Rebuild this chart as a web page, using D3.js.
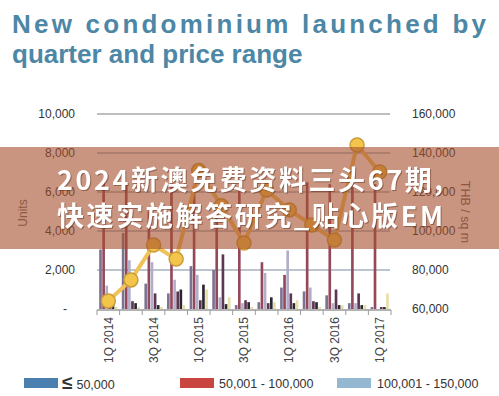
<!DOCTYPE html>
<html>
<head>
<meta charset="utf-8">
<script src="https://cdn.jsdelivr.net/npm/d3@7"></script>
<style>
  body { margin: 0; background: #fff; }
  svg { display: block; font-family: Arial, "Liberation Sans", Helvetica, sans-serif; }
</style>
</head>
<body>
<svg id="chart" width="499" height="396"></svg>
<script>
const quarters = ["1Q 2014", "2Q 2014", "3Q 2014", "4Q 2014", "1Q 2015", "2Q 2015", "3Q 2015",
    "4Q 2015", "1Q 2016", "2Q 2016", "3Q 2016", "4Q 2016", "1Q 2017"];
const tickQuarters = ["1Q 2014", "3Q 2014", "1Q 2015", "3Q 2015", "1Q 2016", "3Q 2016", "1Q 2017"];

const seriesNames = ["≤ 50,000", "50,001 - 100,000", "100,001 - 150,000",
    "150,001 - 200,000", "200,001 - 250,000", "> 250,000"];

// units launched per price band
const under50k      = [3050, 3900, 1300,  800, 2200, 2000,  200,  350, 1100,  900,  700,  300,  100];
const from50to100k  = [6600, 6500, 5000, 6400, 6300, 5000, 6200, 2400, 1750, 6500, 6400, 6700, 6400];
const from100to150k = [1200, 2500, 2400, 1500, 1750,  600,  300, 1850, 3000, 1100,  300,  300,    0];
const from150to200k = [ 500,  400,  800,  900,  450, 2800,  450,  300,  800,  400, 1000,  800,  100];
const from200to250k = [ 300,  300,  200, 1000, 1250,  250,  350,  600,  300,  350,  200,  200,  100];
const above250k     = [ 100,  100,  100,  200, 1000,  600,  100,  350,  450,  100,  200,  200,  800];

// average price THB / sq m
const avgPrice = [64100, 74900, 92800, 85600, 131000, 113000, 93800, 121000, 110800, 103100, 95400, 144100, 130300];

const unitTicks = [0, 2000, 4000, 6000, 8000, 10000];
const priceTicks = [60000, 80000, 100000, 120000, 140000, 160000];

const seriesValues = [under50k, from50to100k, from100to150k, from150to200k, from200to250k, above250k];
const barColors = ["#7c7393", "#94495b", "#b3adca", "#5d3651", "#2b2730", "#e7dfa9"];
const legendColors = ["#4a7fb0", "#c8463f", "#95b8d2"];

const svg = d3.select("#chart");
const margin = { top: 114, right: 109, bottom: 87, left: 97 };
const width = 499, height = 396;
const plotRight = 391;
const zeroY = 309;

const x0 = d3.scaleBand()
    .domain(quarters)
    .range([margin.left, plotRight])
    .padding(0);

const x1 = d3.scaleBand()
    .domain(d3.range(seriesNames.length))
    .range([0, x0.bandwidth()])
    .paddingInner(0.15)
    .paddingOuter(0.7);

const y = d3.scaleLinear().domain([0, 10000]).range([zeroY, margin.top]);
const y2 = d3.scaleLinear().domain([60000, 160000]).range([zeroY, margin.top]);

// title
const title = svg.append("g").attr("fill", "#4d87a6").attr("font-weight", "bold").attr("font-size", 26);
title.append("text").attr("x", 12).attr("y", 33)
    .attr("textLength", 474).attr("lengthAdjust", "spacing")
    .text("New condominium launched by");
title.append("text").attr("x", 12).attr("y", 63).text("quarter and price range");

// gridlines
svg.append("g")
    .selectAll("line")
    .data(unitTicks.filter(d => d > 0))
    .join("line")
    .attr("x1", margin.left)
    .attr("x2", plotRight - 1)
    .attr("y1", d => y(d))
    .attr("y2", d => y(d))
    .attr("stroke", d => d === 10000 ? "#a9a9a9" : "#a3b2c0")
    .attr("stroke-width", 1.5);

// bars
const rows = quarters.map((q, i) => ({ q, values: seriesValues.map(s => s[i]) }));

svg.append("g")
    .attr("class", "plot-area")
    .selectAll("g")
    .data(rows)
    .join("g")
    .attr("transform", d => `translate(${x0(d.q)},0)`)
    .selectAll("rect")
    .data(d => d.values.map((v, k) => ({ k, v })))
    .join("rect")
    .attr("x", d => x1(d.k))
    .attr("y", d => y(d.v))
    .attr("width", x1.bandwidth())
    .attr("height", d => y(0) - y(d.v))
    .attr("fill", d => barColors[d.k]);

// x axis line + band ticks
const xAxisG = svg.append("g").attr("stroke", "#9a9a9a");
xAxisG.append("line")
    .attr("x1", margin.left).attr("x2", plotRight)
    .attr("y1", zeroY + 1).attr("y2", zeroY + 1)
    .attr("stroke-width", 1.5);
xAxisG.selectAll(".btick")
    .data(quarters.concat(["end"]))
    .join("line")
    .attr("class", "btick")
    .attr("x1", (d, i) => margin.left + i * x0.bandwidth())
    .attr("x2", (d, i) => margin.left + i * x0.bandwidth())
    .attr("y1", zeroY + 1)
    .attr("y2", zeroY + 6);

svg.append("g")
    .attr("transform", `translate(0,${zeroY + 8})`)
    .call(d3.axisBottom(x0).tickValues(tickQuarters).tickSize(0).tickPadding(0))
    .call(g => g.select(".domain").remove())
    .call(g => g.selectAll("text")
        .attr("transform", "rotate(-90)")
        .attr("text-anchor", "end")
        .attr("x", 0)
        .attr("y", 0)
        .attr("dy", "0.35em")
        .attr("font-size", 12)
        .attr("fill", "#444"));

// left axis
svg.append("g")
    .attr("transform", `translate(${margin.left},0)`)
    .call(d3.axisLeft(y).tickValues(unitTicks).tickSize(0).tickPadding(22)
        .tickFormat(d => d === 0 ? "-" : d3.format(",")(d)))
    .call(g => g.select(".domain").remove())
    .call(g => g.selectAll("text").attr("font-size", 12).attr("fill", "#333"))
    .call(g => g.selectAll(".tick").filter(d => d === 0).select("text").attr("dx", -8));

// right axis
svg.append("g")
    .attr("transform", `translate(${plotRight - 1},0)`)
    .call(d3.axisRight(y2).tickValues(priceTicks).tickSize(0).tickPadding(22).tickFormat(d3.format(",")))
    .call(g => g.select(".domain").remove())
    .call(g => g.selectAll("text").attr("font-size", 12).attr("fill", "#333"));

// axis titles
svg.append("text")
    .attr("transform", "translate(27,213) rotate(-90)")
    .attr("text-anchor", "middle")
    .attr("font-size", 12)
    .attr("fill", "#666")
    .text("Units");

svg.append("text")
    .attr("transform", "translate(461,212) rotate(90)")
    .attr("text-anchor", "middle")
    .attr("font-size", 12.5)
    .attr("fill", "#666")
    .text("THB / sq m");

// price line
const xc = q => x0(q) + x0.bandwidth() / 2;
const line = d3.line()
    .x((d, i) => xc(quarters[i]))
    .y(d => y2(d));

svg.append("path")
    .datum(avgPrice)
    .attr("d", line)
    .attr("fill", "none")
    .attr("stroke", "#f0c25a")
    .attr("stroke-width", 4)
    .attr("stroke-linejoin", "round");

svg.append("g")
    .selectAll("circle")
    .data(avgPrice)
    .join("circle")
    .attr("cx", (d, i) => xc(quarters[i]))
    .attr("cy", d => y2(d))
    .attr("r", 7)
    .attr("fill", "#f3c54b")
    .attr("stroke", "#c99d3c")
    .attr("stroke-width", 1.5);

// legend (first row)
const legendX = [24, 180, 337];
const legend = svg.append("g").attr("font-size", 12.5).attr("fill", "#333");
legendColors.forEach((c, i) => {
    legend.append("rect")
        .attr("x", legendX[i]).attr("y", 378)
        .attr("width", 34).attr("height", 10)
        .attr("fill", c);
});
legend.append("text").attr("x", 62).attr("y", 389)
    .call(t => t.append("tspan").attr("font-size", 19).attr("font-weight", "bold").text("≤"))
    .call(t => t.append("tspan").attr("dx", 4).text("50,000"));
legend.append("text").attr("x", legendX[1] + 39).attr("y", 388).text(seriesNames[1]);
legend.append("text").attr("x", legendX[2] + 40).attr("y", 388).text(seriesNames[2]);

// watermark band
svg.append("rect")
    .attr("x", 0).attr("y", 147)
    .attr("width", width).attr("height", 102)
    .attr("fill", "rgb(165,78,43)")
    .attr("opacity", 0.6);

const wm = svg.append("g")
    .attr("font-family", "'Noto Sans CJK SC', 'Noto Sans', sans-serif")
    .attr("font-weight", "bold")
    .attr("font-size", 27)
    .attr("fill", "#fff")
    .style("filter", "drop-shadow(1px 1.5px 0.5px rgba(90,45,25,0.5))");

[["2024新澳免费资料三头67期,", 190], ["快速实施解答研究_贴心版EM", 226]].forEach(([s, by]) => {
    wm.append("text").attr("x", 57).attr("y", by)
        .attr("textLength", 386).attr("lengthAdjust", "spacing")
        .text(s);
});
</script>
</body>
</html>
